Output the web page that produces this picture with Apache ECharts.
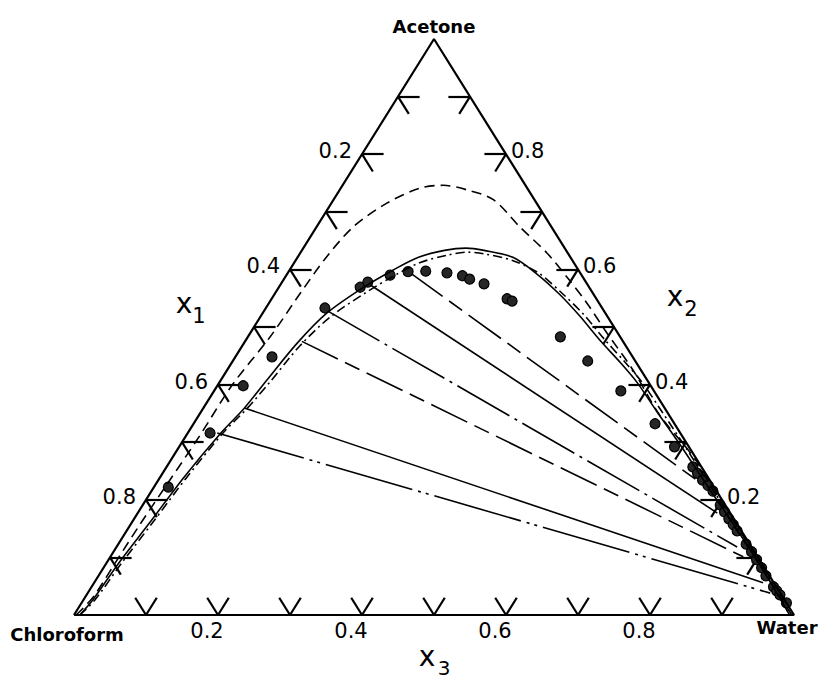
<!DOCTYPE html>
<html>
<head>
<meta charset="utf-8">
<script src="https://cdn.jsdelivr.net/npm/echarts@6/dist/echarts.min.js"></script>
<style>
  html, body { margin: 0; padding: 0; background: #fff; }
  #chart { width: 822px; height: 681px; }
</style>
</head>
<body>
<div id="chart"></div>
<script>
// every point is [x3 (water), x2 (acetone)]; x1 (chloroform) = 1 - x3 - x2
const vertexNames = ['Chloroform', 'Water', 'Acetone'];
const vertices = [[0, 0], [1, 0], [0, 1]];
const tickValues = [0.1, 0.2, 0.3, 0.4, 0.5, 0.6, 0.7, 0.8, 0.9];
const labelValues = [0.2, 0.4, 0.6, 0.8];

// binodal curves
const curveDashed = [
  [0.003, 0], [0.011, 0.031], [0.012, 0.090], [0.013, 0.158], [0.016, 0.234], [0.019, 0.311],
  [0.020, 0.399], [0.031, 0.483], [0.035, 0.559], [0.040, 0.622], [0.051, 0.674], [0.077, 0.715],
  [0.110, 0.741], [0.140, 0.746], [0.177, 0.738], [0.222, 0.721], [0.282, 0.674], [0.342, 0.629],
  [0.391, 0.587], [0.441, 0.542], [0.495, 0.490], [0.564, 0.425], [0.640, 0.347], [0.729, 0.269],
  [0.820, 0.174], [0.909, 0.087], [0.997, 0]
];
const curveSolid = [
  [0.008, 0], [0.013, 0.026], [0.017, 0.090], [0.025, 0.160], [0.033, 0.238], [0.046, 0.316],
  [0.057, 0.359], [0.064, 0.408], [0.074, 0.472], [0.089, 0.524], [0.117, 0.568], [0.144, 0.599],
  [0.168, 0.621], [0.198, 0.633], [0.226, 0.637], [0.253, 0.633], [0.299, 0.621], [0.347, 0.592],
  [0.397, 0.556], [0.443, 0.519], [0.492, 0.477], [0.540, 0.438], [0.581, 0.403], [0.630, 0.356],
  [0.703, 0.287], [0.775, 0.217], [0.847, 0.148], [0.918, 0.078], [0.994, 0]
];
const curveDashDot = [
  [0.008, 0], [0.016, 0.026], [0.021, 0.090], [0.029, 0.160], [0.037, 0.238], [0.049, 0.316],
  [0.061, 0.358], [0.070, 0.405], [0.080, 0.467], [0.097, 0.517], [0.125, 0.559], [0.151, 0.590],
  [0.175, 0.612], [0.207, 0.625], [0.232, 0.630], [0.256, 0.627], [0.300, 0.616], [0.348, 0.594],
  [0.398, 0.559], [0.448, 0.521], [0.497, 0.479], [0.547, 0.438], [0.588, 0.403], [0.637, 0.356],
  [0.708, 0.287], [0.779, 0.217], [0.850, 0.148], [0.919, 0.078], [0.994, 0]
];

// experimental points
const expPoints = [
  [0.020, 0.222], [0.031, 0.316], [0.036, 0.398], [0.051, 0.448], [0.082, 0.533], [0.113, 0.569],
  [0.119, 0.578], [0.144, 0.590], [0.166, 0.596], [0.190, 0.597], [0.221, 0.594], [0.245, 0.589],
  [0.258, 0.583], [0.282, 0.575], [0.327, 0.549], [0.336, 0.545], [0.434, 0.483], [0.493, 0.441],
  [0.565, 0.389], [0.641, 0.332], [0.688, 0.292], [0.731, 0.257], [0.743, 0.246], [0.756, 0.234],
  [0.768, 0.225], [0.780, 0.215], [0.802, 0.191], [0.814, 0.179], [0.826, 0.167], [0.837, 0.157],
  [0.848, 0.146], [0.872, 0.123], [0.886, 0.110], [0.900, 0.096], [0.914, 0.082], [0.927, 0.068],
  [0.947, 0.049], [0.955, 0.042], [0.963, 0.035], [0.979, 0.021]
];

// tie lines, [left end, right end]
const tieSolid = [
  [[0.120, 0.576], [0.805, 0.177]],
  [[0.058, 0.359], [0.929, 0.056]]
];
const tieDashed = [
  [[0.170, 0.594], [0.748, 0.234]],
  [[0.079, 0.475], [0.879, 0.101]]
];
const tieDashDot = [
  [[0.088, 0.528], [0.862, 0.118]]
];
const tieDashDotDot = [
  [[0.041, 0.316], [0.948, 0.038]]
];

const INK = '#000';
const NUM_FONT = 'DejaVu Sans';

// ternary -> cartesian (x along the base, y = acetone)
const toXY = p => [p[0] + p[1] / 2, p[1]];

function tickSegments() {
  const d = 0.03;
  const segs = [];
  tickValues.forEach(t => {
    // left edge, x1 = t
    segs.push([toXY([0, 1 - t]), toXY([d, 1 - t])]);
    segs.push([toXY([0, 1 - t]), toXY([d, 1 - t - d])]);
    // right edge, x2 = t
    segs.push([toXY([1 - t, t]), toXY([1 - t - d, t])]);
    segs.push([toXY([1 - t, t]), toXY([1 - t, t - d])]);
    // bottom edge, x3 = t
    segs.push([toXY([t, 0]), toXY([t - d, d])]);
    segs.push([toXY([t, 0]), toXY([t, d])]);
  });
  return segs.map(s => ({ coords: s }));
}

function curve(name, pts, type) {
  return {
    name: name,
    type: 'line',
    data: pts.map(toXY),
    showSymbol: false,
    smooth: 0.3,
    clip: false,
    silent: true,
    lineStyle: { color: INK, width: 1.6, type: type }
  };
}

function ties(name, list, type) {
  return {
    name: name,
    type: 'lines',
    coordinateSystem: 'cartesian2d',
    clip: false,
    silent: true,
    data: list.map(l => ({ coords: l.map(toXY) })),
    lineStyle: { color: INK, width: 1.6, type: type, opacity: 1 }
  };
}

function tickLabels(name, pts, pos, dist, offset) {
  return {
    name: name,
    type: 'scatter',
    symbolSize: 0,
    silent: true,
    clip: false,
    data: pts,
    label: {
      show: true,
      position: pos,
      distance: dist,
      offset: offset,
      formatter: '{b}',
      color: INK,
      opacity: 1,
      fontFamily: NUM_FONT,
      fontSize: 21
    }
  };
}

function subText(x, y, text, size) {
  return {
    type: 'text', x: x, y: y,
    style: { text: text, fontSize: size, fontFamily: NUM_FONT, fill: INK, textAlign: 'center', textVerticalAlign: 'middle' }
  };
}

const chart = echarts.init(document.getElementById('chart'), null, { renderer: 'svg' });

const option = {
  backgroundColor: '#fff',
  animation: false,
  grid: { left: 74, right: 28, top: 39, bottom: 66 },
  xAxis: { type: 'value', min: 0, max: 1, show: false },
  yAxis: { type: 'value', min: 0, max: 1, show: false },
  graphic: [
    subText(184, 303, 'x', 28), subText(199, 316, '1', 21),
    subText(675, 296, 'x', 28), subText(691, 309, '2', 21),
    subText(427, 656, 'x', 28), subText(444, 668, '3', 20)
  ],
  series: [
    {
      name: 'frame',
      type: 'line',
      data: vertices.concat([vertices[0]]).map(toXY),
      showSymbol: false,
      clip: false,
      silent: true,
      lineStyle: { color: INK, width: 2.2 }
    },
    {
      name: 'ticks',
      type: 'lines',
      coordinateSystem: 'cartesian2d',
      clip: false,
      silent: true,
      data: tickSegments(),
      lineStyle: { color: INK, width: 2.2, opacity: 1 }
    },
    curve('dashed', curveDashed, [10, 6]),
    curve('solid', curveSolid, 'solid'),
    curve('dash-dot', curveDashDot, [9, 4, 2, 4]),
    ties('tie solid', tieSolid, 'solid'),
    ties('tie dashed', tieDashed, [40, 8, 16, 8]),
    ties('tie dash-dot', tieDashDot, [60, 6, 3, 6]),
    ties('tie dash-dot-dot', tieDashDotDot, [90, 6, 3, 5, 3, 6]),
    {
      name: 'experimental',
      type: 'scatter',
      data: expPoints.map(toXY),
      symbol: 'circle',
      symbolSize: 10,
      clip: false,
      silent: true,
      itemStyle: { color: '#262626', borderColor: '#000', borderWidth: 1.2, opacity: 1 }
    },
    tickLabels('x1 labels', labelValues.map(v => ({ name: v.toFixed(1), value: toXY([0, 1 - v]) })), 'left', 10, [0, -3]),
    tickLabels('x2 labels', labelValues.map(v => ({ name: v.toFixed(1), value: toXY([1 - v, v]) })), 'right', 5, [0, -3]),
    tickLabels('x3 labels', labelValues.map(v => ({ name: v.toFixed(1), value: toXY([v, 0]) })), 'bottom', 5, [-11, 0]),
    {
      name: 'vertices',
      type: 'scatter',
      symbolSize: 0,
      silent: true,
      clip: false,
      data: vertices.map((v, i) => ({
        name: vertexNames[i],
        value: toXY(v),
        label: [
          { position: 'bottom', distance: 10, offset: [-7, 0] },
          { position: 'bottom', distance: 3, offset: [-7, 0] },
          { position: 'top', distance: 4, offset: [0, 0] }
        ][i]
      })),
      label: {
        show: true,
        formatter: '{b}',
        color: INK,
        opacity: 1,
        fontFamily: NUM_FONT,
        fontWeight: 'bold',
        fontSize: 18
      }
    }
  ]
};

chart.setOption(option);
</script>
</body>
</html>
